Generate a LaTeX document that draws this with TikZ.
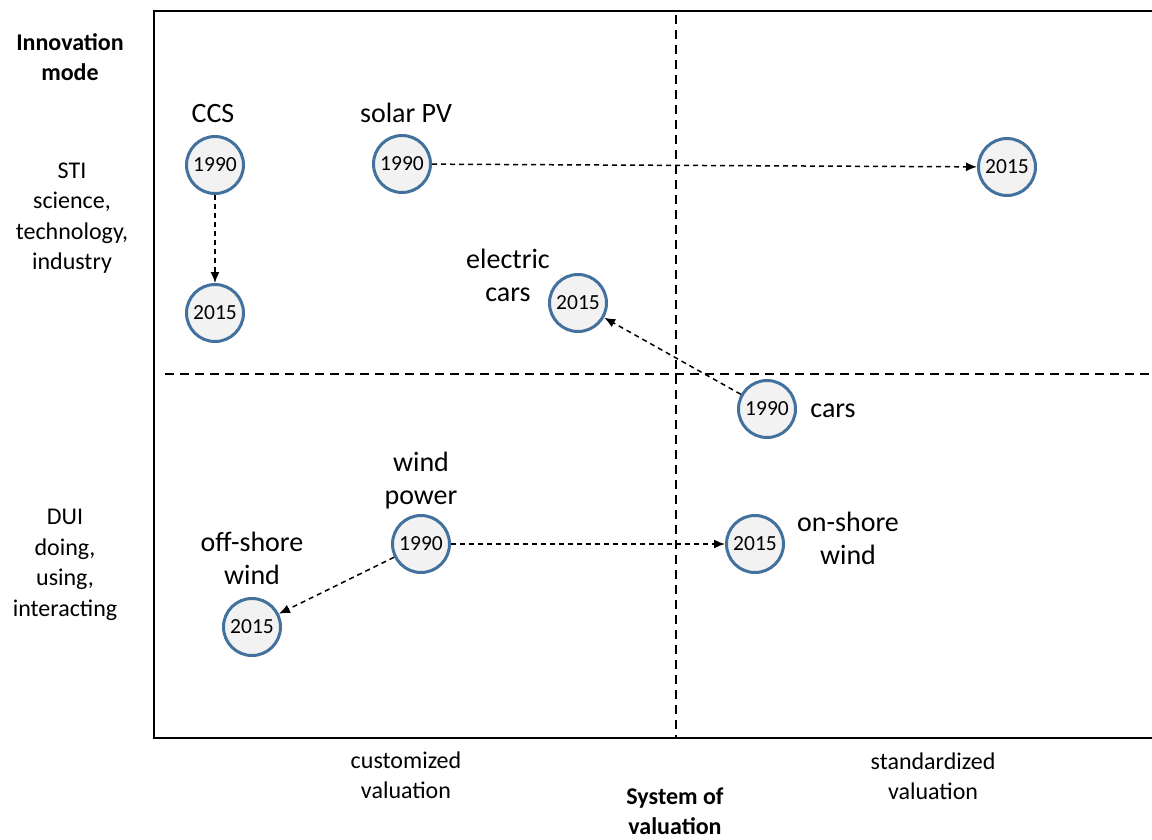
\documentclass[tikz,border=0pt]{standalone}
\usepackage{fontspec}
\setmainfont{Carlito}
\usetikzlibrary{arrows.meta,positioning}
\definecolor{ringblue}{HTML}{41719C}
\definecolor{ringfill}{HTML}{F2F2F2}

\begin{document}
\begin{tikzpicture}[x=1pt,y=-1pt,
    year/.style={
        circle,
        draw=ringblue,
        line width=3pt,
        fill=ringfill,
        minimum size=57pt,
        inner sep=0pt,
        font=\fontsize{21.5}{24}\selectfont
    },
    tech/.style={align=center, inner sep=0pt, font=\fontsize{28}{33}\selectfont},
    side/.style={align=center, inner sep=0pt, font=\fontsize{24}{30.5}\selectfont},
    heading/.style={align=center, inner sep=0pt, font=\fontsize{24}{30}\selectfont\bfseries},
    flow/.style={line width=1.5pt, dash pattern=on 5pt off 4pt, -{Latex[length=11pt,width=9pt]}},
    divider/.style={line width=2.5pt, dash pattern=on 9pt off 6pt}
]
    \useasboundingbox (0,0) rectangle (1152,839);

    \draw[line width=2pt] (1152,11) -- (154,11) -- (154,738) -- (1152,738);
    \draw[divider] (676,15) -- (676,738);
    \draw[divider] (165,374) -- (1152,374);

    \node[heading] (mode) at (70,57) {Innovation\\mode};
    \node[side] (sti) at (72,218) {STI\\science,\\technology,\\industry};
    \node[side] (dui) at (65,565) {DUI\\doing,\\using,\\interacting};
    \node[side] (custom) at (406,775) {customized\\valuation};
    \node[side] (standard) at (933,776) {standardized\\valuation};
    \node[heading] (system) at (675,811) {System of\\valuation};

    \node[year] (ccs90) at (215,165) {1990};
    \node[year] (ccs15) at (215,313) {2015};
    \node[year] (pv90) at (402,164) {1990};
    \node[year] (pv15) at (1007,167) {2015};
    \node[year] (cars90) at (767,409) {1990};
    \node[year] (ecars15) at (578,303) {2015};
    \node[year] (wind90) at (421,544) {1990};
    \node[year] (offwind15) at (252,627) {2015};
    \node[year] (onwind15) at (755,544) {2015};

    \node[tech] (ccs) at (213,114) {CCS};
    \node[tech] (pv) at (406,113) {solar PV};
    \node[tech] (ecars) at (508,275) {electric\\cars};
    \node[tech] (cars) at (833,411) {cars};
    \node[tech] (wind) at (421,481) {wind\\power};
    \node[tech] (offwind) at (252,558) {off-shore\\wind};
    \node[tech] (onwind) at (848,538) {on-shore\\wind};

    \draw[flow] (ccs90) -- (ccs15);
    \draw[flow] (pv90) -- (pv15);
    \draw[flow] (cars90) -- (ecars15);
    \draw[flow] (wind90) -- (onwind15);
    \draw[flow] (wind90) -- (offwind15);
\end{tikzpicture}
\end{document}
